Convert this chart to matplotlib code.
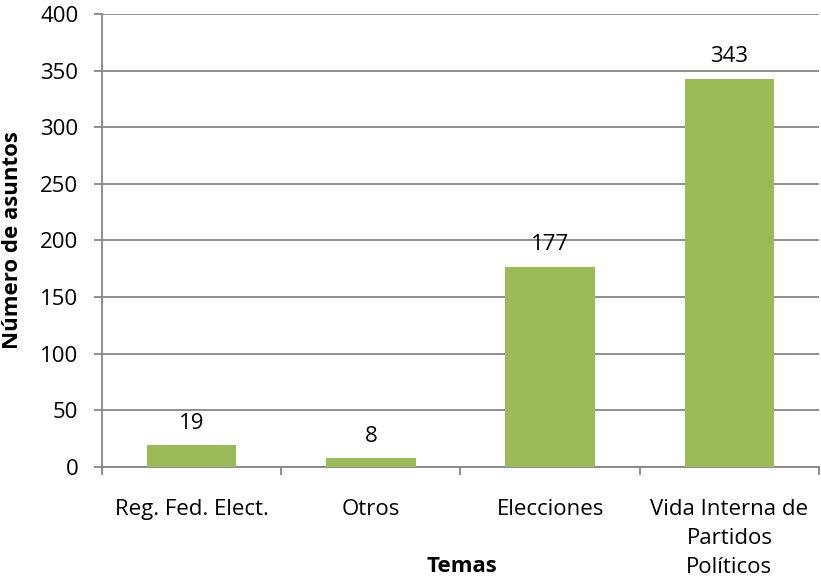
import matplotlib.pyplot as plt
import numpy as np

temas = ["Reg. Fed. Elect.", "Otros", "Elecciones", "Vida Interna de\nPartidos\nPolíticos"]
asuntos = [19, 8, 177, 343]
y_ticks = [0, 50, 100, 150, 200, 250, 300, 350, 400]

plt.rcParams['font.family'] = ['Open Sans', 'DejaVu Sans']
grid_color = '#868686'
bar_color = '#9BBB59'
fs = 16

fig = plt.figure(figsize=(8.21, 5.8), dpi=100)
ax = fig.add_axes([0.1242, 0.1948, 0.8734, 0.7811])

x = np.arange(len(temas))
bars = ax.bar(x, asuntos, width=0.5, color=bar_color, zorder=3)

for xi, v in zip(x, asuntos):
  ax.annotate(str(v), (xi, v), xytext=(0, 8), textcoords='offset points',
              ha='center', va='bottom', fontsize=fs, color='black')

ax.set_xlim(-0.5, len(temas) - 0.5)
ax.set_ylim(0, 400)
ax.set_yticks(y_ticks)
ax.set_yticklabels([str(t) for t in y_ticks], fontsize=fs)

# category boundaries as major ticks, names as minor ticks
ax.set_xticks(np.arange(len(temas) + 1) - 0.5)
ax.set_xticklabels([])
ax.set_xticks(x, minor=True)
ax.set_xticklabels(temas, minor=True, fontsize=fs, linespacing=1.5)
ax.tick_params(axis='x', which='minor', length=0, pad=23)
ax.tick_params(axis='x', which='major', length=6, color=grid_color, width=1.3)
ax.tick_params(axis='y', length=6, color=grid_color, width=1.3, pad=11)

ax.yaxis.grid(True, color=grid_color, linewidth=1.3, zorder=0)
ax.set_axisbelow(True)

for s in ['top', 'right']:
  ax.spines[s].set_visible(False)
for s in ['left', 'bottom']:
  ax.spines[s].set_color(grid_color)
  ax.spines[s].set_linewidth(1.3)

ax.set_ylabel("Número de asuntos", fontsize=fs, fontweight='bold')
ax.yaxis.set_label_coords(-0.110, 0.5)
fig.text(0.5627, 1 - 567 / 580, "Temas", ha='center', va='center', fontsize=fs, fontweight='bold')

fig.savefig('out.png', dpi=100)
